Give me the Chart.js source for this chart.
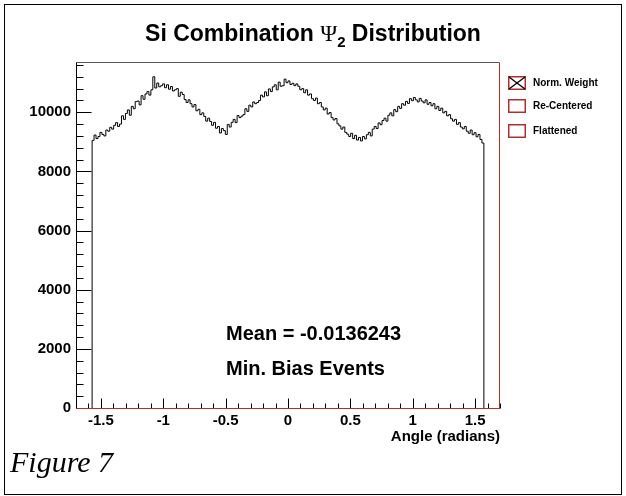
<!DOCTYPE html>
<html>
<head>
<meta charset="utf-8">
<script src="https://cdn.jsdelivr.net/npm/chart.js@4/dist/chart.umd.min.js"></script>
<style>
  html, body { margin:0; padding:0; background:#fff; }
  #wrap { position:relative; width:626px; height:496px; overflow:hidden; font-family:"Liberation Sans", Arial, sans-serif; }
  #c { position:absolute; left:0; top:0; }
  .t { position:absolute; white-space:nowrap; color:#000; font-weight:bold; }
  #frame { position:absolute; left:4px; top:4px; width:616px; height:489px; border:1px solid #000; }
  .lbox { position:absolute; left:508px; width:18px; height:14px; }
</style>
</head>
<body>
<div id="wrap">
  <canvas id="c" width="626" height="496"></canvas>
  <div id="frame"></div>
  <div class="t" id="title" style="left:0;width:626px;text-align:center;top:19px;font-size:23px;line-height:28px;"></div>
  <div id="legend"></div>
  <div id="notes"></div>
  <div class="t" id="fig" style="left:10px;top:444px;font-family:'Liberation Serif','Times New Roman',serif;font-style:italic;font-weight:normal;font-size:30px;line-height:36px;"></div>
</div>
<script>
// ---- data ----
const titleMain = 'Si Combination';
const titleSymbol = '\u03A8';
const titleSub = '2';
const titleTail = 'Distribution';
const xAxisTitle = 'Angle (radians)';
const figureLabel = 'Figure 7';
const legendLabels = ['Norm. Weight', 'Re-Centered', 'Flattened'];
const noteLines = ['Mean = -0.0136243', 'Min. Bias Events'];

const binLow = -Math.PI / 2;
const binHigh = Math.PI / 2;
const xMin = -1.70, xMax = 1.70;
const yMin = 0, yMax = 11700;
const xTickValues = [-1.5, -1, -0.5, 0, 0.5, 1, 1.5];
const yTickValues = [0, 2000, 4000, 6000, 8000, 10000];
const yMinorStep = 400;
const xMinorStep = 0.1;

const counts = [
  9050, 9230, 9110, 9180, 9320, 9250, 9200, 9400, 9360, 9490,
  9430, 9560, 9650, 9520, 9600, 9880, 9760, 9960, 10080, 9900,
  10200, 10120, 10360, 10380, 10250, 10560, 10440, 10620, 10700, 10580,
  10760, 11200, 10820, 10990, 10860, 10900, 10960, 10830, 10930, 10780,
  10870, 10720, 10760, 10800, 10540, 10680, 10600, 10430, 10330, 10420,
  10290, 10180, 10260, 10050, 10100, 9920, 9980, 9860, 9700, 9800,
  9690, 9560, 9660, 9460, 9520, 9300, 9450, 9380, 9250, 9590,
  9500, 9660, 9760, 9650, 9890, 9820, 9870, 9920, 10120, 10030,
  10240, 10180, 10350, 10290, 10330, 10400, 10580, 10520, 10690, 10560,
  10790, 10700, 10860, 10930, 10760, 11020, 10880, 10900, 11120, 11000,
  11060, 10940, 10980, 10900, 10960, 10880, 10760, 10800, 10660, 10760,
  10580, 10620, 10460, 10400, 10480, 10290, 10330, 10180, 10080, 10140,
  9940, 9990, 9820, 9740, 9790, 9610, 9540, 9430, 9500, 9320,
  9260, 9180, 9290, 9110, 9220, 9060, 9150, 9030, 9180, 9100,
  9240, 9320, 9200, 9430, 9520, 9450, 9640, 9580, 9720, 9800,
  9700, 9900, 9980, 9880, 10090, 10020, 10200, 10130, 10290, 10240,
  10370, 10300, 10460, 10390, 10500, 10420, 10350, 10470, 10380, 10320,
  10420, 10270, 10330, 10220, 10290, 10120, 10200, 10060, 10140, 9980,
  10030, 9880, 9920, 9780, 9700, 9760, 9590, 9650, 9500, 9440,
  9520, 9360, 9290, 9400, 9240, 9310, 9170, 9250, 9080, 8960
];

// ---- histogram outline built from the bins ----
const nb = counts.length;
const bw = (binHigh - binLow) / nb;
const pts = [{ x: binLow, y: 0 }];
counts.forEach((c, i) => pts.push({ x: binLow + i * bw, y: c }));
pts.push({ x: binHigh, y: counts[nb - 1] });
pts.push({ x: binHigh, y: 0 });

const RED = '#a83232';

const frameTicks = {
  id: 'frameTicks',
  afterDatasetsDraw(chart) {
    const { ctx, chartArea: a, scales: { x, y } } = chart;
    ctx.save();
    ctx.lineWidth = 1;
    const L = Math.round(a.left) + 0.5, R = Math.round(a.right) - 0.5;
    const T = Math.round(a.top) + 0.5, B = Math.round(a.bottom) + 0.5;
    const seg = (x1, y1, x2, y2, col) => { ctx.strokeStyle = col; ctx.beginPath(); ctx.moveTo(x1, y1); ctx.lineTo(x2, y2); ctx.stroke(); };
    for (let v = yMin; v <= yMax + 1e-6; v += yMinorStep) {
      const py = Math.round(y.getPixelForValue(v)) + 0.5;
      const len = yTickValues.includes(v) ? 15 : 7;
      seg(L, py, L + len, py, '#000');
    }
    const k0 = Math.ceil(xMin / xMinorStep - 1e-9), k1 = Math.floor(xMax / xMinorStep + 1e-9);
    for (let k = k0; k <= k1; k++) {
      const v = k * xMinorStep;
      const px = Math.round(x.getPixelForValue(v)) + 0.5;
      const major = xTickValues.some(t => Math.abs(t - v) < 1e-6);
      seg(px, B, px, B - (major ? 10 : 5), '#000');
    }
    seg(L, T, R, T, '#555');
    seg(L, T, L, B, '#000');
    seg(L, B, R + 0.5, B, RED);
    seg(R, T, R, B, RED);
    ctx.restore();
  }
};

const tickFont = { family: 'Liberation Sans', weight: 'bold', size: 15 };

new Chart(document.getElementById('c'), {
  type: 'line',
  data: {
    datasets: [{
      data: pts,
      borderColor: '#000',
      borderWidth: 1,
      stepped: true,
      pointRadius: 0,
      fill: false,
      tension: 0
    }]
  },
  options: {
    responsive: false,
    animation: false,
    events: [],
    layout: { padding: { left: 0, top: 62, right: 126, bottom: 44 } },
    plugins: { legend: { display: false }, tooltip: { enabled: false }, title: { display: false } },
    scales: {
      x: {
        type: 'linear', min: xMin, max: xMax,
        grid: { display: false, drawTicks: false },
        border: { display: false },
        afterBuildTicks: s => { s.ticks = xTickValues.map(v => ({ value: v })); },
        ticks: {
          padding: 4, maxRotation: 0, autoSkip: false,
          color: '#000', font: tickFont,
          callback: v => String(v)
        },
        title: {
          display: true, text: xAxisTitle, align: 'end', color: '#000',
          font: tickFont,
          padding: { top: 0, bottom: 6 }
        },
        afterFit: s => { s.height = 44; }
      },
      y: {
        type: 'linear', min: yMin, max: yMax,
        grid: { display: false, drawTicks: false },
        border: { display: false },
        afterBuildTicks: s => { s.ticks = yTickValues.map(v => ({ value: v })); },
        ticks: {
          padding: 5, autoSkip: false,
          color: '#000', font: tickFont,
          callback: v => String(v)
        },
        afterFit: s => { s.width = 76; }
      }
    }
  },
  plugins: [frameTicks]
});

// ---- text overlays ----
document.getElementById('title').innerHTML =
  titleMain + ' <span style="font-family:\'Liberation Serif\',serif;font-weight:normal;">' + titleSymbol +
  '</span><span style="font-size:15px;position:relative;top:6px;">' + titleSub + '</span> ' + titleTail;

const lg = document.getElementById('legend');
const boxTops = [76, 99, 124];
legendLabels.forEach((txt, i) => {
  const b = document.createElement('div');
  b.className = 'lbox';
  b.style.top = boxTops[i] + 'px';
  b.innerHTML = '<svg width="18" height="14" style="display:block">' +
    '<rect x="0.75" y="0.75" width="16.5" height="12.5" fill="none" stroke="' + RED + '" stroke-width="1.5"/>' +
    (i === 0 ? '<line x1="1" y1="1" x2="17" y2="13" stroke="#000" stroke-width="1.3"/><line x1="17" y1="1" x2="1" y2="13" stroke="#000" stroke-width="1.3"/>' : '') +
    '</svg>';
  lg.appendChild(b);
  const t = document.createElement('div');
  t.className = 't';
  t.style.left = '533px';
  t.style.top = (boxTops[i] - 1) + 'px';
  t.style.fontSize = '10px';
  t.style.lineHeight = '16px';
  t.textContent = txt;
  lg.appendChild(t);
});

const nt = document.getElementById('notes');
const noteCenters = [333, 368];
noteLines.forEach((txt, i) => {
  const t = document.createElement('div');
  t.className = 't';
  t.style.left = '226px';
  t.style.top = (noteCenters[i] - 12) + 'px';
  t.style.fontSize = '20px';
  t.style.lineHeight = '24px';
  t.textContent = txt;
  nt.appendChild(t);
});

document.getElementById('fig').textContent = figureLabel;
</script>
</body>
</html>
